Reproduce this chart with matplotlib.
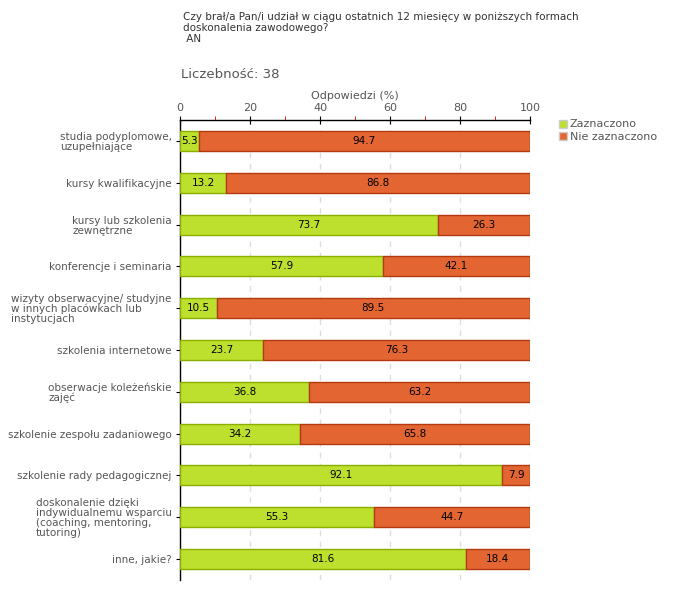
import matplotlib
matplotlib.use("Agg")
import matplotlib.pyplot as plt
from matplotlib.ticker import MultipleLocator
from matplotlib.lines import Line2D

categories = [
    "studia podyplomowe,\nuzupełniające",
    "kursy kwalifikacyjne",
    "kursy lub szkolenia\nzewnętrzne",
    "konferencje i seminaria",
    "wizyty obserwacyjne/ studyjne\nw innych placówkach lub\ninstytucjach",
    "szkolenia internetowe",
    "obserwacje koleżeńskie\nzajęć",
    "szkolenie zespołu zadaniowego",
    "szkolenie rady pedagogicznej",
    "doskonalenie dzięki\nindywidualnemu wsparciu\n(coaching, mentoring,\ntutoring)",
    "inne, jakie?",
]
zaznaczono = [5.3, 13.2, 73.7, 57.9, 10.5, 23.7, 36.8, 34.2, 92.1, 55.3, 81.6]
nie_zaznaczono = [94.7, 86.8, 26.3, 42.1, 89.5, 76.3, 63.2, 65.8, 7.9, 44.7, 18.4]
series_names = ["Zaznaczono", "Nie zaznaczono"]
x_ticks = [0, 20, 40, 60, 80, 100]

green, green_edge = "#bde02e", "#8aae00"
red, red_edge = "#e36532", "#b33a10"
txt = "#555555"

fig = plt.figure(figsize=(6.8, 6.0), dpi=100)
ax = fig.add_axes([180/680, 1-580/600, 350/680, 460/600])

y = list(range(len(categories)))
ax.barh(y, zaznaczono, height=0.48, color=green, edgecolor=green_edge, linewidth=1, zorder=3)
ax.barh(y, nie_zaznaczono, left=zaznaczono, height=0.48, color=red, edgecolor=red_edge, linewidth=1, zorder=3)

for i in y:
    g, r = zaznaczono[i], nie_zaznaczono[i]
    ax.text(g/2, i, f"{g:.1f}", ha="center", va="center", fontsize=7.5, color="black", zorder=4)
    ax.text(g + r/2, i, f"{r:.1f}", ha="center", va="center", fontsize=7.5, color="black", zorder=4)

ax.set_xlim(0, 100)
ax.set_ylim(len(categories)-0.5, -0.5)
ax.xaxis.tick_top()
ax.xaxis.set_label_position("top")
ax.set_xticks(x_ticks)
ax.xaxis.set_minor_locator(MultipleLocator(10))
ax.tick_params(axis="x", which="major", direction="inout", length=6, color="black", labelsize=8, labelcolor=txt, pad=2)
ax.tick_params(axis="x", which="minor", direction="out", length=3, color="#dd0000")
ax.set_xlabel("Odpowiedzi (%)", fontsize=8, color=txt, labelpad=3)
ax.set_yticks(y)
ax.set_yticklabels(categories, fontsize=7.5, color=txt, linespacing=1.0)
for lab in ax.get_yticklabels():
    lab.set_multialignment("left")
ax.tick_params(axis="y", direction="out", length=3, color="black", pad=3)

for s in ["right", "bottom"]:
    ax.spines[s].set_visible(False)
for s in ["top", "left"]:
    ax.spines[s].set_color("black")
    ax.spines[s].set_linewidth(1)

ax.grid(axis="x", which="major", linestyle=(0, (4, 4)), color="#dddddd", linewidth=1, zorder=0)
ax.set_axisbelow(True)

fig.text(183/680, 1-12/600, "Czy brał/a Pan/i udział w ciągu ostatnich 12 miesięcy w poniższych formach\ndoskonalenia zawodowego?\n AN",
         fontsize=7.5, color="#333333", va="top", ha="left", linespacing=1.15)
fig.text(181/680, 1-75/600, "Liczebność: 38", fontsize=9.5, color=txt, va="center", ha="left")

handles = [Line2D([], [], marker="s", linestyle="none", markersize=6, markerfacecolor=c, markeredgecolor="#cccccc")
           for c in (green, red)]
fig.legend(handles, series_names, loc="upper left", bbox_to_anchor=(554/680, 1-115/600), frameon=False,
           fontsize=8, labelcolor=txt, handletextpad=0.2, borderaxespad=0, labelspacing=0.2, handlelength=0.8)

fig.savefig("out.png", dpi=100)
